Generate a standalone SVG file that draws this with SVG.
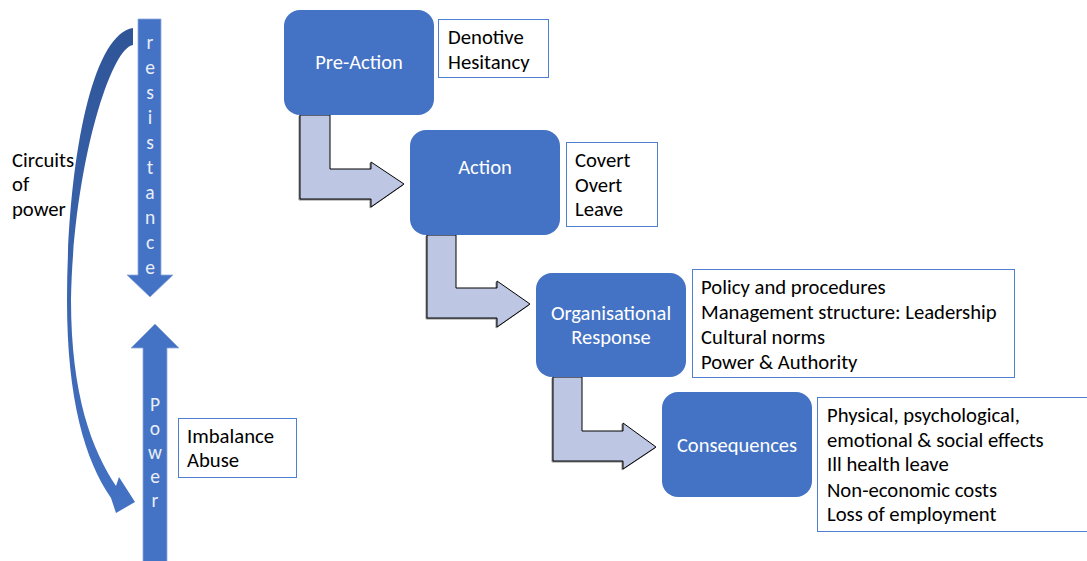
<svg xmlns="http://www.w3.org/2000/svg" width="1087" height="561" viewBox="0 0 1087 561">
<defs>
<linearGradient id="cg" x1="0" y1="0" x2="0" y2="1">
<stop offset="0" stop-color="#2f5597"/>
<stop offset="1" stop-color="#4472c4"/>
</linearGradient>
<filter id="sh" x="-10%" y="-10%" width="130%" height="130%">
<feDropShadow dx="-1" dy="1" stdDeviation="0.6" flood-color="#000" flood-opacity="0.45"/>
</filter>
</defs>
<style>
.box{fill:#4472c4;}
.lbl{fill:#ffffff;font-family:Carlito,Lato,"Open Sans",sans-serif;font-size:20.5px;text-anchor:middle;}
.note{fill:#ffffff;stroke:#4f7fd0;stroke-width:1;}
.nt{fill:#000000;font-family:Carlito,Lato,"Open Sans",sans-serif;font-size:20.7px;}
.bent{fill:#bdc7e3;stroke:#000000;stroke-width:1;stroke-linejoin:miter;}
.shaft{fill:#4472c4;stroke:#8faadc;stroke-width:0.8;}
.let{fill:#e9eef8;font-family:Carlito,Lato,"Open Sans",sans-serif;font-size:19.5px;text-anchor:middle;}
</style>
<rect width="1087" height="561" fill="#ffffff"/>

<g id="circuit">
<path d="M133,28 L133,45 C110,48 73,170 71,300 C71,395 92,450 116,486 L119,477 L135,502 L116,513 L111,498 C85,460 67,400 67,300 C67,170 90,35 133,28 Z" fill="url(#cg)"/>
<text class="nt" x="12" y="167">Circuits</text>
<text class="nt" x="12" y="191">of</text>
<text class="nt" x="12" y="216">power</text>
</g>

<g id="resistance">
<path class="shaft" d="M138,19 L161,19 L161,275 L173,275 L150,297 L127,275 L138,275 Z"/>
<text class="let" x="150" y="49">r</text>
<text class="let" x="150" y="74">e</text>
<text class="let" x="150" y="99">s</text>
<text class="let" x="150" y="124">i</text>
<text class="let" x="150" y="149">s</text>
<text class="let" x="150" y="174">t</text>
<text class="let" x="150" y="199">a</text>
<text class="let" x="150" y="224">n</text>
<text class="let" x="150" y="249">c</text>
<text class="let" x="150" y="274">e</text>
</g>

<g id="power">
<path class="shaft" d="M155,324 L179,348 L167,348 L167,562 L143,562 L143,348 L131,348 Z"/>
<text class="let" x="155" y="411">P</text>
<text class="let" x="155" y="435">o</text>
<text class="let" x="155" y="459">w</text>
<text class="let" x="155" y="483">e</text>
<text class="let" x="155" y="507">r</text>
</g>

<g id="imbalance">
<rect class="note" x="178.5" y="418.5" width="118" height="59"/>
<text class="nt" x="187" y="443">Imbalance</text>
<text class="nt" x="187" y="467">Abuse</text>
</g>

<g id="connectors">
<path class="bent" filter="url(#sh)" d="M300,115 L330,115 L330,169 L371,169 L371,162 L404,184 L371,207 L371,199 L300,199 Z"/>
<path class="bent" filter="url(#sh)" d="M427,235 L456,235 L456,288 L497,288 L497,281 L530,304 L497,327 L497,318 L427,318 Z"/>
<path class="bent" filter="url(#sh)" d="M553,377 L582,377 L582,431 L623,431 L623,423 L656,447 L623,469 L623,461 L553,461 Z"/>
</g>

<g id="pre-action">
<rect class="box" x="284" y="10" width="150" height="105" rx="16"/>
<text class="lbl" x="359" y="69">Pre-Action</text>
</g>
<g id="denotive">
<rect class="note" x="438.5" y="19.5" width="110" height="58"/>
<text class="nt" x="448" y="44">Denotive</text>
<text class="nt" x="448" y="69">Hesitancy</text>
</g>

<g id="action">
<rect class="box" x="410" y="130" width="150" height="105" rx="16"/>
<text class="lbl" x="485" y="174">Action</text>
</g>
<g id="covert">
<rect class="note" x="566.5" y="142.5" width="91" height="84"/>
<text class="nt" x="575" y="167">Covert</text>
<text class="nt" x="575" y="192">Overt</text>
<text class="nt" x="575" y="216">Leave</text>
</g>

<g id="org-response">
<rect class="box" x="536" y="273" width="150" height="104" rx="16"/>
<text class="lbl" x="611" y="320">Organisational</text>
<text class="lbl" x="611" y="344">Response</text>
</g>
<g id="policy">
<rect class="note" x="692.5" y="269.5" width="322" height="108"/>
<text class="nt" x="701" y="294">Policy and procedures</text>
<text class="nt" x="701" y="319">Management structure: Leadership</text>
<text class="nt" x="701" y="344">Cultural norms</text>
<text class="nt" x="701" y="369">Power &amp; Authority</text>
</g>

<g id="consequences">
<rect class="box" x="662" y="392" width="150" height="105" rx="16"/>
<text class="lbl" x="737" y="452">Consequences</text>
</g>
<g id="effects">
<rect class="note" x="817.5" y="397.5" width="275" height="134"/>
<text class="nt" x="827" y="422">Physical, psychological,</text>
<text class="nt" x="827" y="447">emotional &amp; social effects</text>
<text class="nt" x="827" y="471">Ill health leave</text>
<text class="nt" x="827" y="497">Non-economic costs</text>
<text class="nt" x="827" y="521">Loss of employment</text>
</g>
</svg>
